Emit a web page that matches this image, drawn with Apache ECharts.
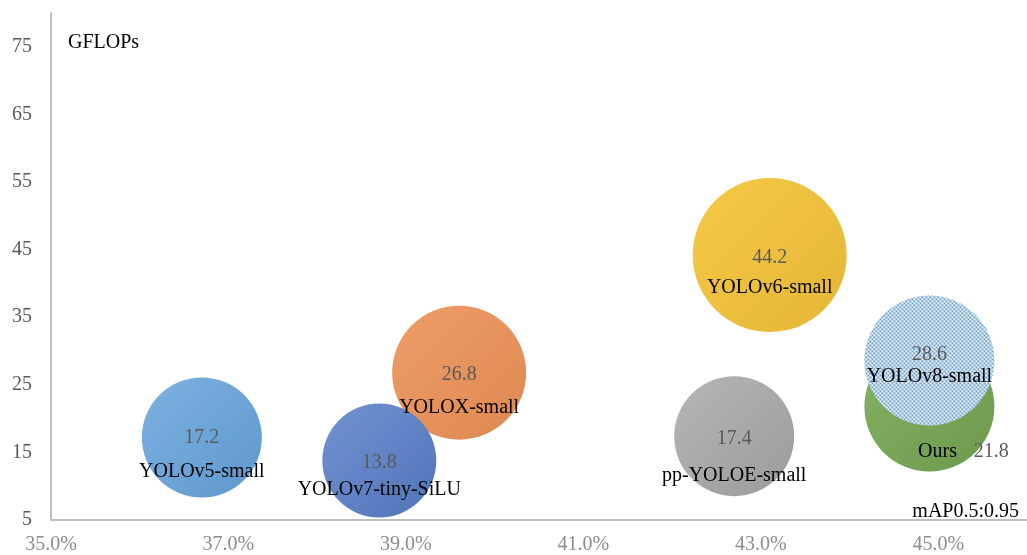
<!DOCTYPE html>
<html>
<head>
<meta charset="utf-8">
<script src="https://cdn.jsdelivr.net/npm/echarts@6/dist/echarts.min.js"></script>
<style>
  html, body { margin: 0; padding: 0; background: #fff; }
  #chart { width: 1027px; height: 555px; }
</style>
</head>
<body>
<div id="chart"></div>
<script>
// Detector comparison: accuracy (mAP0.5:0.95, %) vs. compute (GFLOPs)
const models  = ['YOLOv5-small', 'YOLOX-small', 'YOLOv7-tiny-SiLU', 'pp-YOLOE-small', 'YOLOv6-small', 'Ours', 'YOLOv8-small'];
const mAP     = [36.7, 39.6, 38.7, 42.7, 43.1, 44.9, 44.9];
const gflops  = [17.2, 26.8, 13.8, 17.4, 44.2, 21.8, 28.6];
const bubble  = [60, 67, 57, 60, 77, 65, 65];
const xTicks  = [35, 37, 39, 41, 43, 45];
const yTicks  = [5, 15, 25, 35, 45, 55, 65, 75];

const SERIF = '"Liberation Serif", "Times New Roman", serif';

function grad(c1, c2) {
  return { type: 'linear', x: 0, y: 0, x2: 1, y2: 1,
           colorStops: [{ offset: 0, color: c1 }, { offset: 1, color: c2 }] };
}

// dotted fill; the symbol path is drawn at unit size and scaled up by its
// radius, so the pattern is scaled back down by the same factor
function dotPattern(radius) {
  const c = document.createElement('canvas');
  c.width = 4; c.height = 4;
  const g = c.getContext('2d');
  g.fillStyle = '#ffffff';
  g.fillRect(0, 0, 4, 4);
  g.fillStyle = '#4f8ccc';
  g.beginPath(); g.arc(1, 1, 1.05, 0, Math.PI * 2); g.fill();
  g.beginPath(); g.arc(3, 3, 1.05, 0, Math.PI * 2); g.fill();
  return { image: c, repeat: 'repeat', scaleX: 1 / radius, scaleY: 1 / radius };
}

const fills = {
  'YOLOv5-small':     grad('#7cb2e0', '#5f98cf'),
  'YOLOX-small':      grad('#ee9d68', '#df8850'),
  'YOLOv7-tiny-SiLU': grad('#7292d1', '#5174b8'),
  'pp-YOLOE-small':   grad('#b6b6b6', '#9b9b9b'),
  'YOLOv6-small':     grad('#f5c944', '#e5b637'),
  'Ours':             grad('#86b266', '#6d994d')
};

// label shift relative to the bubble centre: value line shift (dv) and
// spacing to the name line (gap)
const labelPlace = {
  'YOLOv5-small':     { dv: 0,  gap: 34 },
  'YOLOX-small':      { dv: 2,  gap: 33 },
  'YOLOv7-tiny-SiLU': { dv: 2,  gap: 27 },
  'pp-YOLOE-small':   { dv: 3,  gap: 37 },
  'YOLOv6-small':     { dv: 3,  gap: 30 },
  'YOLOv8-small':     { dv: -6, gap: 22 },
  'Ours':             { dx: 34, dy: 45 }
};

const richStyle = {
  v: { fontFamily: SERIF, fontSize: 20, color: '#595959' },
  n: { fontFamily: SERIF, fontSize: 20, color: '#000000' }
};

const data = models.map((name, i) => {
  const color = name === 'YOLOv8-small' ? dotPattern(bubble[i]) : fills[name];
  const item = {
    name: name,
    value: [mAP[i], gflops[i], bubble[i]],
    itemStyle: { color: color }
  };
  if (name === 'Ours') {
    item.label = {
      show: true, position: 'inside',
      formatter: '{n|' + name + '}     {v|' + gflops[i] + '}',
      rich: { v: Object.assign({}, richStyle.v), n: Object.assign({}, richStyle.n) }
    };
  } else {
    const p = labelPlace[name];
    item.label = {
      show: true, position: 'inside',
      formatter: '{v|' + gflops[i] + '}\n{n|' + name + '}',
      rich: {
        v: Object.assign({ lineHeight: p.gap }, richStyle.v),
        n: Object.assign({ lineHeight: p.gap }, richStyle.n)
      }
    };
  }
  return item;
});

const chart = echarts.init(document.getElementById('chart'), null, { renderer: 'canvas' });

chart.setOption({
  animation: false,
  backgroundColor: '#ffffff',
  grid: { left: 51, right: -3, top: 13, bottom: 34, containLabel: false },
  xAxis: {
    type: 'value', min: 35, max: 46, interval: 2,
    axisLine: { show: true, lineStyle: { color: '#bfbfbf', width: 2 } },
    axisTick: { show: false },
    splitLine: { show: false },
    axisLabel: {
      showMaxLabel: false, margin: 15,
      fontFamily: SERIF, fontSize: 20, color: '#8c8c8c',
      formatter: v => xTicks.includes(v) ? v.toFixed(1) + '%' : ''
    }
  },
  yAxis: {
    type: 'value', min: 5, max: 80, interval: 10,
    axisLine: { show: true, lineStyle: { color: '#bfbfbf', width: 2 } },
    axisTick: { show: false },
    splitLine: { show: false },
    axisLabel: {
      showMaxLabel: false, margin: 19,
      fontFamily: SERIF, fontSize: 20, color: '#595959',
      formatter: v => yTicks.includes(v) ? String(v) : ''
    }
  },
  graphic: [
    { type: 'text', left: 68, top: 33,
      style: { text: 'GFLOPs', font: '20px ' + SERIF, fill: '#000000' } },
    { type: 'text', right: 8, top: 502,
      style: { text: 'mAP0.5:0.95', font: '20px ' + SERIF, fill: '#000000' } }
  ],
  series: [{
    type: 'scatter',
    data: data,
    symbol: 'circle',
    symbolSize: d => d[2] * 2,
    itemStyle: { opacity: 1 },
    emphasis: { disabled: true },
    labelLayout: params => {
      const p = labelPlace[models[params.dataIndex]];
      if (p.dx !== undefined) return { dx: p.dx, dy: p.dy, hideOverlap: false };
      return { dx: 0, dy: p.gap / 2 + p.dv, hideOverlap: false };
    }
  }]
});
</script>
</body>
</html>
